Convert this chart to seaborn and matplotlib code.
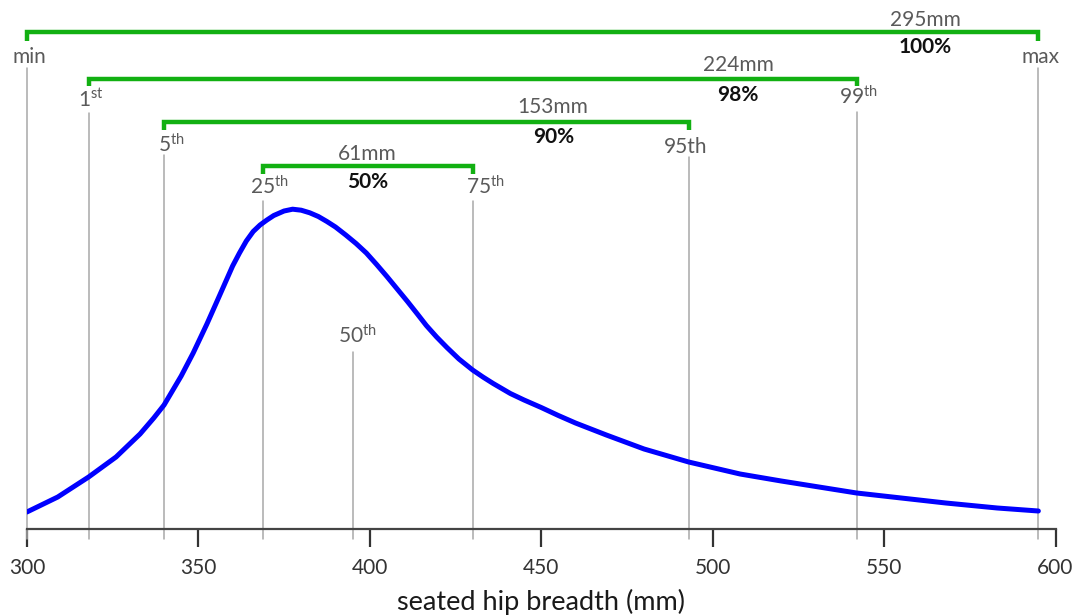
import matplotlib
matplotlib.use("Agg")
import matplotlib.pyplot as plt
import seaborn as sns
import pandas as pd

# Distribution of seated hip breadth (relative frequency, arbitrary units)
hip_mm = [300, 309, 318, 326, 333, 337, 340, 345, 348.5, 352.5, 356, 360,
          362, 364, 366, 368, 370, 372, 375, 377.5, 380, 382.5, 385, 387.5,
          390, 393, 396, 399, 402, 405, 408, 411, 414, 416.5, 419.5, 422.5,
          426, 430, 433, 436, 441, 445, 450, 455, 460, 469, 480, 493, 508,
          520, 542, 568, 583, 595]
density = [17, 32, 52, 72, 95, 111, 124, 153, 176, 205, 232, 263,
           276, 288, 297.5, 304, 309, 313.5, 318, 319.8, 318.8, 316.2, 312.5, 307.5,
           302, 294, 285.5, 276, 264.5, 252.5, 240, 227.5, 214.5, 203.5, 192, 181.5,
           170, 159, 152, 145.5, 135.5, 129, 121.5, 113.5, 106, 94, 80, 67, 55,
           48, 36, 26, 21, 18]

# Percentile markers
pct_names = ["min", "1st", "5th", "25th", "50th", "75th", "95th", "99th", "max"]
pct_ranks = [0, 1, 5, 25, 50, 75, 95, 99, 100]
pct_values = [300, 318, 340, 369, 395, 430, 493, 542, 595]

# Ranges shown as brackets (lower, upper percentile name)
span_pairs = [("min", "max"), ("1st", "99th"), ("5th", "95th"), ("25th", "75th")]

x_ticks = [300, 350, 400, 450, 500, 550, 600]
x_label = "seated hip breadth (mm)"

sns.set_theme(style="white")
plt.rcParams["font.family"] = ["Lato", "DejaVu Sans"]
plt.rcParams["mathtext.fontset"] = "custom"
plt.rcParams["mathtext.rm"] = "Lato"
plt.rcParams["mathtext.it"] = "Lato:italic"
plt.rcParams["mathtext.bf"] = "Lato:bold"

W, H = 1080, 615
AXIS_Y = 529           # pixel row of the x axis
X0, X1 = 26.9, 1055.5  # pixel columns of 300 and 600

fig = plt.figure(figsize=(W / 100, H / 100), dpi=100)
ax = fig.add_axes([X0 / W, 1 - AXIS_Y / H, (X1 - X0) / W, AXIS_Y / H])
ax.set_xlim(300, 600)
ax.set_ylim(0, AXIS_Y)


def ypx(p):
    """Vertical position given as pixels from the top of the figure."""
    return AXIS_Y - p


GRAY_TXT = "#5a5a5a"
LINE_GRAY = "#a8a8a8"
GREEN = "#12b012"

# label placement: (label x in mm, label centre row, top row of the guide line)
label_layout = {
    "min": (300.7, 57, 68),
    "1st": (318.7, 100, 113),
    "5th": (342.2, 145, 155),
    "25th": (370.6, 187, 201),
    "50th": (396.4, 336, 352),
    "75th": (433.6, 187, 201),
    "95th": (492.0, 147, 157),
    "99th": (542.5, 97, 112),
    "max": (595.5, 57, 68),
}


def pretty(name):
    if name in ("min", "max", "95th"):
        return name
    digits = name[:-2]
    suffix = name[-2:]
    return digits + r"$^{\mathrm{" + suffix + "}}$"


values = dict(zip(pct_names, pct_values))
ranks = dict(zip(pct_names, pct_ranks))

for name in pct_names:
    lx, ly, ltop = label_layout[name]
    ax.plot([values[name], values[name]], [ypx(539), ypx(ltop)],
            color=LINE_GRAY, lw=1.1, clip_on=False, zorder=1)
    ax.text(lx, ypx(ly), pretty(name), ha="center", va="center",
            fontsize=15, color=GRAY_TXT)

# distribution curve
df = pd.DataFrame({"hip": hip_mm, "density": density})
sns.lineplot(data=df, x="hip", y="density", ax=ax, color="#0000ff",
             lw=3.6, solid_capstyle="round", solid_joinstyle="round",
             zorder=3)

# bracket layout: (bracket row, drop row, text x in mm, mm-label row, pct-label row)
span_layout = [
    (32, 41, 562.0, 20, 47),
    (79, 86, 507.4, 65, 95),
    (122, 130, 453.5, 107, 137),
    (165.5, 174, 399.4, 153.5, 182),
]

for (lo, hi), (by, dy, tx, my, py) in zip(span_pairs, span_layout):
    a, b = values[lo], values[hi]
    ax.plot([a, a, b, b], [ypx(dy), ypx(by), ypx(by), ypx(dy)],
            color=GREEN, lw=3.2, solid_joinstyle="miter",
            solid_capstyle="butt", clip_on=False, zorder=2)
    ax.text(tx, ypx(my), f"{b - a}mm", ha="center", va="center",
            fontsize=15, color=GRAY_TXT)
    ax.text(tx, ypx(py), f"{ranks[hi] - ranks[lo]}%", ha="center",
            va="center", fontsize=15, color="#111111", fontweight="bold")

for s in ("left", "right", "top"):
    ax.spines[s].set_visible(False)
ax.spines["bottom"].set_color("#444444")
ax.spines["bottom"].set_linewidth(1.6)
ax.set_yticks([])
ax.set_xticks(x_ticks)
ax.tick_params(axis="x", direction="out", length=13, width=1.6,
               color="#333333", labelsize=15, labelcolor="#333333", pad=8,
               bottom=True)
ax.set_xlabel(x_label, fontsize=19.5, color="#1a1a1a", labelpad=8)
ax.set_ylabel("")

fig.savefig("out.png", dpi=100)
